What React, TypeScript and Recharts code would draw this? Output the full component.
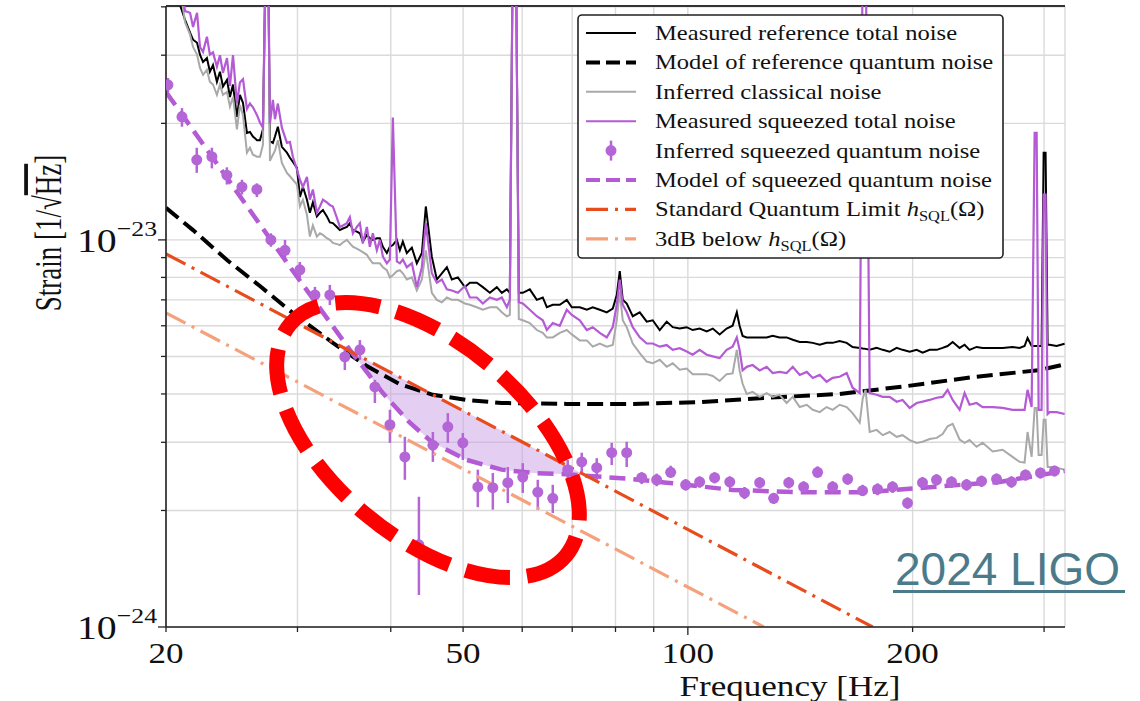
import React from "react";
import {
  ComposedChart,
  Line,
  Area,
  Scatter,
  ErrorBar,
  XAxis,
  YAxis,
  CartesianGrid,
  Legend,
  ReferenceLine,
} from "recharts";

const PURPLE = "#b35ad4";
const DOT = "#b466d6";
const GRAY = "#a9a9a9";
const SQL_RED = "#e84c1c";
const SQL_LIGHT = "#f4a17c";
const SERIF = "'Liberation Serif', 'Times New Roman', serif";
const STRETCH = 1.17; // the source figure is stretched sideways

// all strain values below are in units of 1e-24 1/sqrt(Hz)

// measured spectra (shared frequency grid)
const freqHz = [
  20.25, 20.56, 20.88, 21.21, 21.54, 21.74, 22.01, 22.21, 22.42, 22.69,
  22.9, 23.12, 23.4, 23.62, 23.84, 24.14, 24.36, 24.59, 24.89, 25.12,
  25.36, 25.67, 25.91, 26.15, 26.48, 26.72, 26.97, 27.22, 27.39, 27.56,
  27.81, 27.99, 28.24, 28.59, 29.04, 29.31, 29.58, 29.95, 30.23, 30.51,
  30.89, 31.17, 31.46, 31.85, 32.15, 32.45, 32.85, 33.15, 33.46, 33.88,
  34.19, 34.51, 34.94, 35.26, 35.59, 36.03, 36.37, 36.7, 37.16, 37.5,
  37.85, 38.32, 38.68, 39.04, 39.52, 39.89, 40.26, 40.76, 41.14, 41.52,
  42.03, 42.69, 43.35, 44.03, 44.57, 45.4, 46.11, 46.83, 47.56, 48.29,
  49.2, 50.27, 51.05, 52.16, 53.14, 54.3, 55.48, 56.34, 57.22, 57.75,
  58.29, 58.83, 59.37, 60.11, 61.42, 62.76, 63.93, 64.73, 65.93, 67.37,
  68.84, 69.91, 71.66, 73.22, 74.58, 76.21, 77.87, 79.33, 80.31, 81.06,
  81.81, 82.82, 84.37, 86.21, 88.09, 89.73, 91.69, 93.69, 95.44, 97.52,
  99.65, 101.5, 103.7, 106.0, 108.0, 110.3, 112.7, 114.8, 116.3, 117.3,
  118.4, 119.9, 122.1, 124.8, 127.5, 129.9, 132.7, 135.6, 138.2, 141.2,
  144.3, 147.0, 150.2, 153.4, 156.3, 159.7, 163.2, 166.2, 169.9, 171.5,
  173.0, 175.2, 179.0, 182.4, 186.3, 190.4, 193.9, 198.2, 202.5, 206.3,
  210.8, 215.4, 219.4, 222.8, 226.3, 231.2, 234.8, 238.4, 243.6, 248.2,
  256.0, 264.0, 272.2, 278.2, 282.5, 285.1, 288.7, 291.4, 293.2, 295.0,
  297.7, 299.6, 301.4, 303.3, 305.2, 311.8, 319.6,
];

const refTotal = [
  60, 60, 40.5, 37.0, 34.3, 32.9, 32.3, 30.1, 28.8, 29.5,
  27.2, 28.3, 25.6, 27.2, 24.9, 25.9, 23.4, 25.2, 20.8, 23.7,
  22.6, 18.9, 19.0, 18.5, 18.1, 18.1, 19.3, 60, 60, 18.0,
  17.8, 18.5, 19.6, 17.4, 16.8, 16.3, 15.9, 15.35, 12.9, 13.7,
  12.7, 11.75, 12.5, 11.5, 11.75, 11.95, 11.5, 11.1, 11.05, 10.8,
  10.6, 10.7, 10.8, 11.05, 10.6, 10.5, 10.4, 9.9, 10.3, 10.1,
  10.0, 10.1, 10.1, 9.6, 9.25, 9.6, 9.7, 10.0, 9.4, 9.9,
  9.25, 9.55, 8.7, 9.25, 12.2, 9.05, 7.9, 8.2, 8.5, 7.9,
  8.0, 7.55, 7.75, 7.75, 7.55, 7.3, 7.55, 7.3, 7.45, 7.3,
  60, 60, 7.3, 7.3, 7.45, 7.0, 7.1, 6.7, 6.8, 6.8,
  7.0, 6.7, 6.7, 6.6, 6.7, 6.6, 6.5, 6.65, 7.2, 8.3,
  7.0, 6.85, 6.35, 6.5, 6.15, 6.2, 5.85, 6.15, 5.95, 5.9,
  5.95, 5.85, 5.9, 5.8, 5.9, 5.7, 5.9, 6.0, 6.5, 6.0,
  5.65, 5.6, 5.6, 5.6, 5.6, 5.65, 5.6, 5.6, 5.52, 5.45,
  5.45, 5.42, 5.36, 5.42, 5.42, 5.48, 5.42, 5.29, 5.26, 5.24,
  5.23, 5.2, 5.26, 5.2, 5.14, 5.26, 5.2, 5.14, 5.2, 5.11,
  5.2, 5.2, 5.26, 5.32, 5.45, 5.26, 5.36, 5.2, 5.29, 5.26,
  5.26, 5.26, 5.29, 5.26, 5.32, 5.58, 5.32, 5.32, 5.32, 5.32,
  5.32, 16.8, 16.8, 5.36, 5.36, 5.32, 5.39,
];

const sqzTotal = [
  60, 60, 48, 39.0, 38.6, 35.5, 38.6, 31.5, 30.6, 33.5,
  30.1, 30.5, 28.0, 30.0, 27.0, 29.5, 25.0, 30.0, 22.5, 25.5,
  26.0, 21.8, 22.5, 22.0, 21.0, 20.1, 19.5, 60, 60, 20.0,
  23.0, 20.5, 22.5, 19.5, 17.8, 17.9, 16.4, 15.2, 14.3, 13.7,
  14.55, 12.7, 13.5, 11.75, 12.2, 12.7, 12.5, 12.3, 12.2, 11.4,
  10.8, 10.9, 11.05, 11.45, 10.4, 10.8, 11.05, 9.8, 10.8, 9.6,
  10.4, 9.4, 10.0, 9.05, 8.7, 8.9, 20.7, 8.8, 8.7, 8.9,
  8.5, 8.7, 7.55, 8.5, 11.05, 8.2, 7.75, 7.9, 7.45, 7.4,
  7.3, 7.6, 7.1, 7.1, 6.85, 7.1, 7.0, 7.1, 6.7, 7.0,
  60, 60, 6.9, 6.85, 6.6, 6.35, 6.2, 5.85, 6.1, 6.0,
  6.6, 6.4, 6.2, 5.85, 5.95, 5.75, 5.6, 5.95, 6.8, 7.9,
  6.8, 6.5, 5.95, 5.6, 5.4, 5.4, 5.3, 5.35, 5.2, 5.25,
  5.15, 5.05, 5.2, 5.05, 5.0, 4.95, 5.2, 5.3, 5.6, 5.2,
  4.6, 4.7, 4.75, 4.6, 4.7, 4.53, 4.56, 4.53, 4.7, 4.48,
  4.56, 4.4, 4.48, 4.3, 4.4, 4.43, 4.53, 4.15, 4.02, 60,
  60, 4.02, 3.98, 3.93, 3.93, 3.82, 3.86, 3.68, 3.79, 3.82,
  3.86, 3.91, 3.93, 4.1, 3.86, 3.64, 4.02, 3.75, 3.79, 3.7,
  3.7, 3.68, 3.64, 3.64, 3.64, 4.1, 3.7, 18.9, 18.9, 3.64,
  3.64, 13.1, 13.1, 3.55, 3.59, 3.59, 3.55,
];

const classical = [
  60, 60, 45, 36.5, 33.9, 31.5, 30.1, 27.8, 26.7, 27.5,
  25.6, 25.2, 23.7, 25.2, 23.7, 24.1, 22.1, 23.4, 19.3, 22.3,
  21.0, 16.8, 17.3, 16.6, 16.4, 16.4, 17.6, 60, 60, 16.0,
  16.6, 17.0, 18.1, 15.8, 14.9, 14.6, 14.3, 13.9, 12.2, 12.7,
  11.6, 10.2, 10.9, 10.2, 10.4, 10.3, 10.1, 10.0, 9.82, 9.75,
  9.7, 9.85, 10.0, 9.8, 9.6, 9.5, 9.4, 9.3, 9.15, 8.9,
  8.7, 8.7, 8.7, 8.5, 8.35, 8.0, 8.1, 8.3, 8.35, 8.2,
  7.9, 8.0, 7.4, 7.9, 9.4, 7.3, 7.0, 6.9, 7.1, 7.0,
  7.0, 6.85, 6.8, 6.7, 6.6, 6.7, 6.7, 6.5, 6.35, 6.4,
  60, 60, 6.25, 6.2, 6.1, 5.85, 5.75, 5.6, 5.6, 5.75,
  5.85, 5.7, 5.5, 5.5, 5.3, 5.4, 5.3, 5.35, 6.2, 7.35,
  6.2, 5.95, 5.4, 5.1, 4.85, 4.8, 4.9, 4.7, 4.8, 4.62,
  4.65, 4.5, 4.5, 4.5, 4.45, 4.32, 4.5, 4.52, 5.2, 4.6,
  4.25, 4.0, 4.05, 3.93, 4.02, 3.93, 3.98, 3.79, 3.93, 3.7,
  3.75, 3.64, 3.59, 3.7, 3.64, 3.75, 3.7, 3.57, 3.37, 3.9,
  4.1, 3.19, 3.23, 3.13, 3.19, 3.1, 3.13, 3.04, 2.99, 3.01,
  3.06, 3.08, 3.15, 3.3, 3.35, 3.05, 2.99, 3.04, 2.92, 2.99,
  2.84, 2.87, 2.75, 2.67, 2.66, 3.19, 2.75, 3.68, 3.68, 2.78,
  2.78, 3.43, 3.43, 2.59, 2.59, 2.58, 2.55,
];

// model curves
const refModelF = [20, 21.74, 24.14, 26.72, 29.58, 33.46, 37.16, 41.14, 45.55, 50.6, 56.3, 68.8, 84.4, 103.7, 124.8, 159.7, 196.3, 240.7, 295.9, 319.6];
const refModel = [12.1, 10.6, 8.87, 7.6, 6.47, 5.42, 4.72, 4.24, 3.98, 3.86, 3.79, 3.77, 3.77, 3.81, 3.9, 4.0, 4.19, 4.42, 4.61, 4.77];

const sqzModelF = [20, 24.14, 29.31, 35.26, 39.04, 42.43, 45.55, 50.6, 56.3, 62.0, 68.8, 84.4, 93.7, 114.8, 141.2, 173.6, 212.7, 261.5, 319.6];
const sqzModel = [24.1, 14.46, 8.52, 5.2, 4.02, 3.37, 2.99, 2.7, 2.55, 2.5, 2.48, 2.41, 2.36, 2.26, 2.23, 2.23, 2.3, 2.37, 2.53];

const sqlF = [20, 176.8];
const sqlVal = [9.2, 1.0];
const sql3dbF = [20, 126.4];
const sql3dbVal = [6.48, 1.0];

// shaded gain below the SQL
const gapF = [35.5, 36.4, 39.0, 42.4, 45.6, 50.6, 56.3, 62.0, 68.8, 72.8];
const gapLow = [5.1, 4.8, 4.02, 3.37, 2.99, 2.7, 2.55, 2.5, 2.48, 2.47];
const gapHigh = [5.1, 5.0, 4.66, 4.28, 3.98, 3.58, 3.22, 2.91, 2.61, 2.47];

// inferred squeezed quantum noise with error bars
const pointF = [
  20.12, 21.01, 21.99, 23.04, 24.13, 25.28, 26.47, 27.64, 28.87, 30.22,
  31.66, 33.15, 34.72, 36.37, 38.09, 39.9, 41.78, 43.63, 45.55, 47.7,
  49.96, 52.32, 54.8, 57.39, 60.1, 62.95, 65.93, 69.04, 72.09, 75.5,
  79.07, 82.81, 86.73, 90.83, 94.84, 99.33, 103.7, 108.6, 113.8, 119.1,
  124.8, 130.3, 136.5, 142.9, 149.2, 156.3, 163.7, 171.4, 179.5, 188.0,
  196.9, 206.2, 215.3, 225.5, 236.2, 247.4, 259.1, 271.3, 283.3, 296.7,
  309.8,
];
const pointVal = [
  25.15, 20.8, 16.1, 16.4, 14.7, 13.7, 13.5, 10.0, 9.4, 8.37,
  7.21, 7.21, 4.99, 5.2, 4.17, 3.33, 2.75, 1.63, 2.95, 3.29,
  2.99, 2.3, 2.29, 2.36, 2.44, 2.23, 2.15, 2.55, 2.67, 2.58,
  2.82, 2.82, 2.43, 2.4, 2.51, 2.33, 2.37, 2.43, 2.37, 2.22,
  2.36, 2.15, 2.36, 2.3, 2.51, 2.3, 2.41, 2.25, 2.27, 2.3,
  2.09, 2.36, 2.4, 2.37, 2.33, 2.38, 2.41, 2.37, 2.47, 2.5,
  2.53,
];
const pointLo = [
  24.1, 19.6, 14.9, 15.3, 13.9, 13.1, 12.9, 9.6, 8.9, 7.98,
  6.87, 6.79, 4.61, 4.9, 3.79, 2.99, 2.4, 1.21, 2.67, 2.99,
  2.7, 2.04, 2.01, 2.09, 2.22, 2.01, 1.97, 2.4, 2.5, 2.4,
  2.62, 2.59, 2.34, 2.31, 2.43, 2.25, 2.29, 2.35, 2.29, 2.14,
  2.28, 2.08, 2.28, 2.22, 2.43, 2.22, 2.33, 2.18, 2.19, 2.22,
  2.02, 2.28, 2.32, 2.29, 2.25, 2.3, 2.33, 2.29, 2.39, 2.42,
  2.45,
];
const pointHi = [
  26.2, 21.9, 17.3, 17.3, 15.4, 14.3, 14.0, 10.4, 10.0, 8.77,
  7.56, 7.65, 5.29, 5.51, 4.35, 3.64, 3.1, 2.17, 3.19, 3.57,
  3.17, 2.55, 2.5, 2.59, 2.65, 2.4, 2.33, 2.7, 2.82, 2.73,
  2.99, 3.01, 2.51, 2.49, 2.61, 2.41, 2.45, 2.51, 2.45, 2.3,
  2.44, 2.22, 2.44, 2.38, 2.6, 2.38, 2.49, 2.33, 2.35, 2.38,
  2.16, 2.44, 2.48, 2.45, 2.41, 2.46, 2.49, 2.45, 2.55, 2.58,
  2.61,
];

const xTicks = [20, 30, 40, 50, 60, 70, 80, 90, 100, 200, 300];
const xLabels: Record<number, string> = { 20: "20", 50: "50", 100: "100", 200: "200" };
const yTicks = [1, 2, 3, 4, 5, 6, 7, 8, 9, 10, 20, 30, 40];
const yExponents: Record<number, string> = { 1: "\u221224", 10: "\u221223" };

const totalRows = freqHz.map((f, i) => ({ f, ref: refTotal[i], sqz: sqzTotal[i], cls: classical[i] }));
const refModelRows = refModelF.map((f, i) => ({ f, v: refModel[i] }));
const sqzModelRows = sqzModelF.map((f, i) => ({ f, v: sqzModel[i] }));
const sqlRows = sqlF.map((f, i) => ({ f, v: sqlVal[i] }));
const sql3dbRows = sql3dbF.map((f, i) => ({ f, v: sql3dbVal[i] }));
const gapRows = gapF.map((f, i) => ({ f, band: [gapLow[i], gapHigh[i]] }));
const pointRows = pointF.map((f, i) => ({
  f,
  v: pointVal[i],
  err: [pointVal[i] - pointLo[i], pointHi[i] - pointVal[i]],
}));

const XTick = (props: any) => {
  const { x, y, payload } = props;
  const v = payload.value;
  const label = xLabels[v];
  return (
    <g>
      <line x1={x} x2={x} y1={y} y2={y + (v === 100 ? 8 : 5)} stroke="#222" strokeWidth={1.3} />
      {label ? (
        <text
          transform={`translate(${x},${y + 36}) scale(${STRETCH},1)`}
          textAnchor="middle"
          fontFamily={SERIF}
          fontSize={30}
          fill="#111"
        >
          {label}
        </text>
      ) : null}
    </g>
  );
};

const YTick = (props: any) => {
  const { x, y, payload } = props;
  const v = payload.value;
  const exp = yExponents[v];
  return (
    <g>
      <line x1={x - (exp ? 8 : 5)} x2={x} y1={y} y2={y} stroke="#222" strokeWidth={1.3} />
      {exp ? (
        <text
          transform={`translate(${x - 9},${y + 12}) scale(${STRETCH},1)`}
          textAnchor="end"
          fontFamily={SERIF}
          fill="#111"
        >
          <tspan fontSize={34}>10</tspan>
          <tspan fontSize={22} dy={-16}>{exp}</tspan>
        </text>
      ) : null}
    </g>
  );
};

const hSql = (
  <>
    <tspan fontStyle="italic">h</tspan>
    <tspan fontSize={14} dy={5}>SQL</tspan>
    <tspan dy={-5}>(Ω)</tspan>
  </>
);

const legendRows: { label: React.ReactNode; stroke: string; width: number; dash?: string; point?: boolean }[] = [
  { label: "Measured reference total noise", stroke: "#000", width: 2 },
  { label: "Model of reference quantum noise", stroke: "#000", width: 4, dash: "14 6" },
  { label: "Inferred classical noise", stroke: GRAY, width: 2 },
  { label: "Measured squeezed total noise", stroke: PURPLE, width: 2 },
  { label: "Inferred squeezed quantum noise", stroke: DOT, width: 2.5, point: true },
  { label: "Model of squeezed quantum noise", stroke: PURPLE, width: 4, dash: "14 6" },
  { label: <>Standard Quantum Limit {hSql}</>, stroke: SQL_RED, width: 3.2, dash: "22 7 3 7" },
  { label: <>3dB below {hSql}</>, stroke: SQL_LIGHT, width: 3.2, dash: "22 7 3 7" },
];

const LegendBox = () => (
  <svg width={428} height={246} style={{ display: "block" }}>
    <rect x={1} y={1} width={425} height={243} rx={4} fill="#fff" stroke="#222" strokeWidth={1.6} />
    {legendRows.map((r, i) => {
      const cy = 19 + i * 29.4;
      return (
        <g key={i}>
          {r.point ? (
            <g>
              <line x1={34} x2={34} y1={cy - 10} y2={cy + 10} stroke={r.stroke} strokeWidth={2.5} />
              <circle cx={34} cy={cy} r={5.5} fill={r.stroke} />
            </g>
          ) : (
            <line
              x1={9}
              x2={59}
              y1={cy}
              y2={cy}
              stroke={r.stroke}
              strokeWidth={r.width}
              strokeDasharray={r.dash}
            />
          )}
          <text
            transform={`translate(78,${cy + 7}) scale(${STRETCH},1)`}
            fontFamily={SERIF}
            fontSize={21}
            fill="#111"
          >
            {r.label}
          </text>
        </g>
      );
    })}
  </svg>
);

const Dot = (props: any) => <circle cx={props.cx} cy={props.cy} r={5.5} fill={DOT} />;

export default function App() {
  return (
    <div style={{ position: "absolute", left: 0, top: 0, width: 1140, height: 701, background: "#fff" }}>
      <ComposedChart width={1140} height={701} margin={{ top: 6, right: 75, bottom: 0, left: 0 }}>
        <CartesianGrid stroke="#dadada" strokeWidth={1.4} />
        <XAxis
          dataKey="f"
          type="number"
          scale="log"
          domain={[20, 320]}
          allowDataOverflow
          ticks={xTicks}
          interval={0}
          tickSize={0}
          tickMargin={0}
          tick={<XTick />}
          height={74}
          axisLine={{ stroke: "#222", strokeWidth: 1.6 }}
          label={{
            content: () => (
              <text
                transform={`translate(790,696) scale(${STRETCH},1)`}
                textAnchor="middle"
                fontFamily={SERIF}
                fontSize={30}
                fill="#111"
              >
                Frequency [Hz]
              </text>
            ),
          }}
        />
        <YAxis
          type="number"
          scale="log"
          domain={[1, 40.2]}
          allowDataOverflow
          ticks={yTicks}
          interval={0}
          tickSize={0}
          tickMargin={0}
          tick={<YTick />}
          width={166}
          axisLine={{ stroke: "#222", strokeWidth: 1.6 }}
          label={{
            content: () => (
              <text
                transform="translate(61,233) rotate(-90) scale(1,1.4)"
                textAnchor="middle"
                fontFamily={SERIF}
                fontSize={27}
                fill="#111"
              >
                Strain [1/√<tspan style={{ textDecoration: "overline" }}>Hz</tspan>]
              </text>
            ),
          }}
        />
        <ReferenceLine y={40.2} stroke="#333" strokeWidth={2} />

        <Area
          data={gapRows}
          dataKey="band"
          type="linear"
          stroke="none"
          fill="#c9a0e8"
          fillOpacity={0.5}
          isAnimationActive={false}
        />
        <Line data={totalRows} dataKey="ref" type="linear" stroke="#000" strokeWidth={2} dot={false} isAnimationActive={false} />
        <Line data={refModelRows} dataKey="v" type="linear" stroke="#000" strokeWidth={4} strokeDasharray="16 7" dot={false} isAnimationActive={false} />
        <Line data={totalRows} dataKey="cls" type="linear" stroke={GRAY} strokeWidth={2} dot={false} isAnimationActive={false} />
        <Line data={totalRows} dataKey="sqz" type="linear" stroke={PURPLE} strokeWidth={2.2} dot={false} isAnimationActive={false} />
        <Scatter data={pointRows} dataKey="v" shape={<Dot />} isAnimationActive={false}>
          <ErrorBar dataKey="err" direction="y" width={0} stroke={DOT} strokeWidth={2.5} />
        </Scatter>
        <Line data={sqzModelRows} dataKey="v" type="linear" stroke={PURPLE} strokeWidth={4.5} strokeDasharray="16 8" dot={false} isAnimationActive={false} />
        <Line data={sqlRows} dataKey="v" type="linear" stroke={SQL_RED} strokeWidth={3.2} strokeDasharray="22 7 3 7" dot={false} isAnimationActive={false} />
        <Line data={sql3dbRows} dataKey="v" type="linear" stroke={SQL_LIGHT} strokeWidth={3.2} strokeDasharray="22 7 3 7" dot={false} isAnimationActive={false} />

        <Legend
          layout="vertical"
          align="center"
          verticalAlign="middle"
          content={() => <LegendBox />}
          wrapperStyle={{ left: 577, top: 14, width: 428, height: 246 }}
        />
      </ComposedChart>
      <svg
        width={1140}
        height={701}
        style={{ position: "absolute", left: 0, top: 0, pointerEvents: "none" }}
      >
        <ellipse
          cx={428}
          cy={440}
          rx={180}
          ry={97}
          transform="rotate(40 428 440)"
          fill="none"
          stroke="#ff0000"
          strokeWidth={15}
          strokeDasharray="45 17"
        />
        <text x={895} y={585} fontFamily="'Liberation Sans', Arial, sans-serif" fontSize={46} fill="#4b7b8b">
          2024 LIGO
        </text>
        <line x1={893} x2={1125} y1={591.5} y2={591.5} stroke="#4b7b8b" strokeWidth={3} />
      </svg>
    </div>
  );
}
